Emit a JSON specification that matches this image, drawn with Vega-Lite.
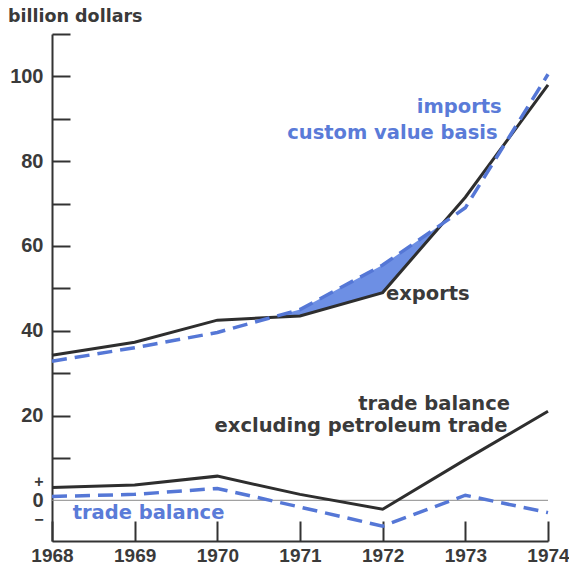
{
  "$schema": "https://vega.github.io/schema/vega-lite/v6.json",
  "width": 496,
  "height": 507,
  "autosize": "none",
  "padding": {"left": 52, "top": 34, "right": 21, "bottom": 23},
  "background": "white",
  "config": {"view": {"stroke": null}, "font": "Liberation Sans"},
  "title": {
    "text": "billion dollars",
    "anchor": "start",
    "frame": "group",
    "dx": -44,
    "offset": -15,
    "baseline": "alphabetic",
    "font": "DejaVu Sans",
    "fontSize": 17.5,
    "fontWeight": "bold",
    "color": "#3a3a3a"
  },
  "datasets": {
    "trade": [
      {"series": "exports", "year": 1968, "value": 34.2},
      {"series": "exports", "year": 1969, "value": 37.3},
      {"series": "exports", "year": 1970, "value": 42.5},
      {"series": "exports", "year": 1971, "value": 43.5},
      {"series": "exports", "year": 1972, "value": 49.0},
      {"series": "exports", "year": 1973, "value": 71.5},
      {"series": "exports", "year": 1974, "value": 98.0},
      {"series": "imports", "year": 1968, "value": 32.8},
      {"series": "imports", "year": 1969, "value": 36.0},
      {"series": "imports", "year": 1970, "value": 39.6},
      {"series": "imports", "year": 1971, "value": 45.0},
      {"series": "imports", "year": 1972, "value": 55.5},
      {"series": "imports", "year": 1973, "value": 69.0},
      {"series": "imports", "year": 1974, "value": 100.5},
      {"series": "balance_ex_petroleum", "year": 1968, "value": 3.0},
      {"series": "balance_ex_petroleum", "year": 1969, "value": 3.6},
      {"series": "balance_ex_petroleum", "year": 1970, "value": 5.7},
      {"series": "balance_ex_petroleum", "year": 1971, "value": 1.4},
      {"series": "balance_ex_petroleum", "year": 1972, "value": -2.1},
      {"series": "balance_ex_petroleum", "year": 1973, "value": 9.6},
      {"series": "balance_ex_petroleum", "year": 1974, "value": 21.0},
      {"series": "balance", "year": 1968, "value": 0.9},
      {"series": "balance", "year": 1969, "value": 1.4},
      {"series": "balance", "year": 1970, "value": 2.8},
      {"series": "balance", "year": 1971, "value": -1.6},
      {"series": "balance", "year": 1972, "value": -6.1},
      {"series": "balance", "year": 1973, "value": 1.2},
      {"series": "balance", "year": 1974, "value": -2.9},
      {"series": "zero", "year": 1968, "value": 0},
      {"series": "zero", "year": 1974, "value": 0}
    ],
    "gap": [
      {"year": 1970.66, "value": 43.16, "hi": 43.16},
      {"year": 1971, "value": 43.5, "hi": 45.0},
      {"year": 1972, "value": 49.0, "hi": 55.5},
      {"year": 1972.72, "value": 65.25, "hi": 65.25}
    ],
    "labels": [
      {"kind": "blue_right", "text": "imports", "year": 1973.44, "value": 91.4},
      {"kind": "blue_right", "text": "custom value basis", "year": 1973.39, "value": 85.2},
      {"kind": "dark_left", "text": "exports", "year": 1972.04, "value": 47.3},
      {"kind": "dark_right", "text": "trade balance", "year": 1973.54, "value": 21.2},
      {"kind": "dark_right", "text": "excluding petroleum trade", "year": 1973.51, "value": 16.2},
      {"kind": "blue_left", "text": "trade balance", "year": 1968.25, "value": -4.5}
    ]
  },
  "encoding": {
    "x": {
      "field": "year",
      "type": "quantitative",
      "scale": {"domain": [1968, 1974], "nice": false, "zero": false},
      "axis": {
        "title": null,
        "values": [1968, 1969, 1970, 1971, 1972, 1973, 1974],
        "format": "d",
        "grid": false,
        "domainColor": "#333333",
        "domainWidth": 2,
        "tickColor": "#333333",
        "tickWidth": 2,
        "tickSize": -20,
        "labelPadding": 25,
        "labelFont": "Liberation Sans",
        "labelFontSize": 19,
        "labelFontWeight": "bold",
        "labelColor": "#3a3a3a",
        "labelBaseline": "top",
        "labelFlush": false,
        "labelOverlap": false,
        "labelBound": false
      }
    },
    "y": {
      "field": "value",
      "type": "quantitative",
      "scale": {"domain": [-9.6, 110], "nice": false, "zero": false},
      "axis": {
        "title": null,
        "values": [-4.5, 0, 4.4, 10, 20, 30, 40, 50, 60, 70, 80, 90, 100, 110],
        "labelExpr": "datum.value == 4.4 ? '+' : datum.value == -4.5 ? '−' : datum.value == 0 ? '0' : (datum.value % 20 == 0 && datum.value <= 100 ? datum.label : '')",
        "grid": false,
        "domainColor": "#333333",
        "domainWidth": 2,
        "tickColor": "#333333",
        "tickWidth": 2,
        "tickSize": -18,
        "tickOpacity": {"condition": {"test": "datum.value < 5", "value": 0}, "value": 1},
        "labelFontSize": {"condition": {"test": "datum.value == 4.4 || datum.value == -4.5", "value": 16}, "value": 20},
        "labelPadding": 27,
        "labelFont": "Liberation Sans",
        "labelFontWeight": "bold",
        "labelColor": "#3a3a3a",
        "labelFlush": false,
        "labelOverlap": false,
        "labelBound": false
      }
    }
  },
  "layer": [
    {
      "data": {"name": "gap"},
      "mark": {"type": "area", "color": "#6d8fe4", "opacity": 1},
      "encoding": {"y2": {"field": "hi"}}
    },
    {
      "data": {"name": "trade"},
      "transform": [{"filter": "datum.series == 'zero'"}],
      "mark": {"type": "line", "color": "#8a8a8a", "strokeWidth": 1},
      "encoding": {}
    },
    {
      "data": {"name": "trade"},
      "transform": [{"filter": "datum.series == 'exports' || datum.series == 'balance_ex_petroleum'"}],
      "mark": {"type": "line", "color": "#2e2e2e", "strokeWidth": 3},
      "encoding": {"detail": {"field": "series"}}
    },
    {
      "data": {"name": "trade"},
      "transform": [{"filter": "datum.series == 'imports' || datum.series == 'balance'"}],
      "mark": {"type": "line", "color": "#5577d6", "strokeWidth": 3.5, "strokeDash": [15, 8]},
      "encoding": {"detail": {"field": "series"}}
    },
    {
      "data": {"name": "labels"},
      "transform": [{"filter": "datum.kind == 'blue_right'"}],
      "mark": {"type": "text", "align": "right", "baseline": "alphabetic", "font": "DejaVu Sans", "fontSize": 19.5, "fontWeight": "bold", "color": "#5a7bd8"},
      "encoding": {"text": {"field": "text"}}
    },
    {
      "data": {"name": "labels"},
      "transform": [{"filter": "datum.kind == 'blue_left'"}],
      "mark": {"type": "text", "align": "left", "baseline": "alphabetic", "font": "DejaVu Sans", "fontSize": 19.5, "fontWeight": "bold", "color": "#5a7bd8"},
      "encoding": {"text": {"field": "text"}}
    },
    {
      "data": {"name": "labels"},
      "transform": [{"filter": "datum.kind == 'dark_right'"}],
      "mark": {"type": "text", "align": "right", "baseline": "alphabetic", "font": "DejaVu Sans", "fontSize": 19.5, "fontWeight": "bold", "color": "#3a3a3a"},
      "encoding": {"text": {"field": "text"}}
    },
    {
      "data": {"name": "labels"},
      "transform": [{"filter": "datum.kind == 'dark_left'"}],
      "mark": {"type": "text", "align": "left", "baseline": "alphabetic", "font": "DejaVu Sans", "fontSize": 19.5, "fontWeight": "bold", "color": "#3a3a3a"},
      "encoding": {"text": {"field": "text"}}
    }
  ]
}
